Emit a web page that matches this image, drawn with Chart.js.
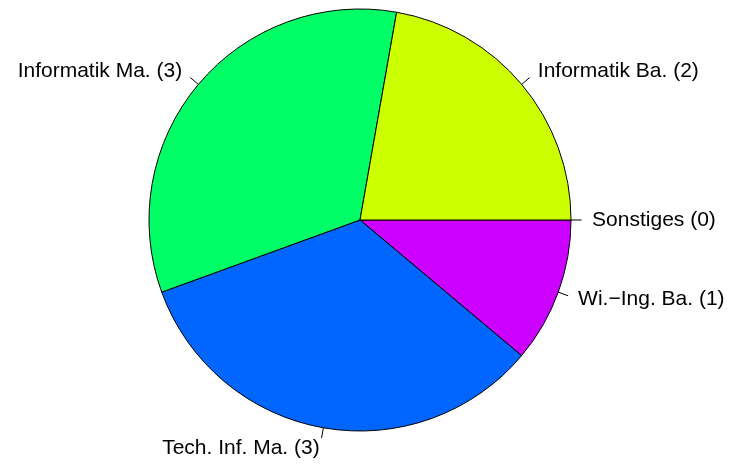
<!DOCTYPE html>
<html>
<head>
<meta charset="utf-8">
<script src="https://cdn.jsdelivr.net/npm/chart.js@4"></script>
<style>
  html, body { margin: 0; padding: 0; background: #fff; }
  #wrap { width: 732px; height: 464px; }
</style>
</head>
<body>
<div id="wrap"><canvas id="chart" width="732" height="464"></canvas></div>
<script>
// categories in the order R draws them (counterclockwise from 3 o'clock)
const categories = ["Sonstiges", "Informatik Ba.", "Informatik Ma.", "Tech. Inf. Ma.", "Wi.\u2212Ing. Ba."]
const counts = [0, 2, 3, 3, 1]
const colors = ["#FF0000", "#CCFF00", "#00FF66", "#0066FF", "#CC00FF"]

// Chart.js goes clockwise, so reverse the order
const labels = categories.map((c, i) => c + " (" + counts[i] + ")").reverse()
const values = counts.slice().reverse()
const bg = colors.slice().reverse()

// draws R-style labels with short tick lines
const pieLabels = {
  id: "pieLabels",
  afterDraw(chart) {
    const ctx = chart.ctx
    const meta = chart.getDatasetMeta(0)
    ctx.save()
    ctx.font = "21px 'Liberation Sans', Arial, sans-serif"
    ctx.fillStyle = "#000"
    ctx.strokeStyle = "#000"
    ctx.lineWidth = 1
    ctx.textBaseline = "middle"
    meta.data.forEach((arc, i) => {
      const { x, y, startAngle, endAngle, outerRadius } = arc.getProps(["x", "y", "startAngle", "endAngle", "outerRadius"])
      const mid = (startAngle + endAngle) / 2
      const c = Math.cos(mid), s = Math.sin(mid)
      ctx.beginPath()
      ctx.moveTo(x + c * outerRadius, y + s * outerRadius)
      ctx.lineTo(x + c * outerRadius * 1.05, y + s * outerRadius * 1.05)
      ctx.stroke()
      ctx.textAlign = c >= 0 ? "left" : "right"
      ctx.fillText(chart.data.labels[i], x + c * outerRadius * 1.1, y + s * outerRadius * 1.1)
    })
    ctx.restore()
  }
}

new Chart(document.getElementById("chart").getContext("2d"), {
  type: "pie",
  data: {
    labels,
    datasets: [{
      data: values,
      backgroundColor: bg,
      borderColor: "#000",
      borderWidth: 1,
      radius: 211,
    }],
  },
  options: {
    responsive: false,
    animation: false,
    events: [],
    rotation: 90,
    layout: { padding: { top: 9, bottom: 33, left: 0, right: 12 } },
    plugins: {
      legend: { display: false },
      tooltip: { enabled: false },
    },
  },
  plugins: [pieLabels],
})
</script>
</body>
</html>
